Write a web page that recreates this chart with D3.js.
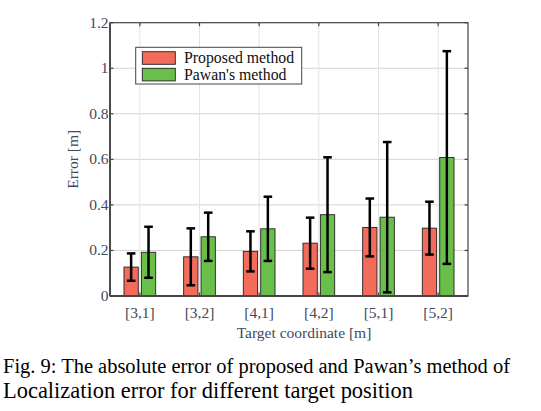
<!DOCTYPE html>
<html><head><meta charset="utf-8">
<script src="https://cdn.jsdelivr.net/npm/d3@7"></script>
<style>body{margin:0;background:#fff}svg{display:block}</style>
</head><body>
<svg id="c" width="541" height="411"></svg>
<script>
const categories = ["[3,1]","[3,2]","[4,1]","[4,2]","[5,1]","[5,2]"];
const seriesNames = ["Proposed method","Pawan's method"];
const proposed = [0.127,0.172,0.196,0.232,0.301,0.298];
const proposedErr = [0.060,0.125,0.088,0.112,0.127,0.116];
const pawan = [0.192,0.260,0.295,0.357,0.346,0.608];
const pawanErr = [0.112,0.106,0.141,0.252,0.330,0.467];
const yTicks = [0,0.2,0.4,0.6,0.8,1,1.2];
const yTickLabels = ["0","0.2","0.4","0.6","0.8","1","1.2"];
const colors = ["#f26b5b","#6abf4b"];

const svg = d3.select("#c");
const L=110,R=468,T=22.7,B=296;
const x = d3.scaleLinear().domain([0.5,6.5]).range([L,R]);
const y = d3.scaleLinear().domain([0,1.2]).range([B,T]);
const txt = "#3f4a5a";
const serif = "'Liberation Serif','Times New Roman',serif";

// grid
const g = svg.append("g");
g.selectAll(".gy").data(yTicks.slice(1,-1)).join("line")
  .attr("x1",L).attr("x2",R).attr("y1",d=>y(d)).attr("y2",d=>y(d))
  .attr("stroke","#d4d4d4").attr("stroke-width",1);
g.selectAll(".gx").data(categories).join("line")
  .attr("x1",(d,i)=>x(i+1)).attr("x2",(d,i)=>x(i+1)).attr("y1",T).attr("y2",B)
  .attr("stroke","#e2e2e2").attr("stroke-width",1);

// bars
const bw = 14.3, off = 8.7;
const data = [proposed,pawan], errs=[proposedErr,pawanErr];
data.forEach((s,k)=>{
  const o = k===0?-off:off;
  svg.append("g").selectAll("rect").data(s).join("rect")
    .attr("x",(d,i)=>x(i+1)+o-bw/2).attr("width",bw)
    .attr("y",d=>y(d)).attr("height",d=>y(0)-y(d))
    .attr("fill",colors[k]).attr("stroke","#222").attr("stroke-width",0.9);
});
data.forEach((s,k)=>{
  const o = k===0?-off:off;
  const eg = svg.append("g").attr("stroke","#000").attr("stroke-width",2.5);
  s.forEach((d,i)=>{
    const cx = x(i+1)+o, lo=y(d-errs[k][i]), hi=y(d+errs[k][i]);
    eg.append("line").attr("x1",cx).attr("x2",cx).attr("y1",lo).attr("y2",hi);
    eg.append("line").attr("x1",cx-4.3).attr("x2",cx+4.3).attr("y1",lo).attr("y2",lo);
    eg.append("line").attr("x1",cx-4.3).attr("x2",cx+4.3).attr("y1",hi).attr("y2",hi);
  });
});

// axes box
const ax = svg.append("g").attr("stroke","#444").attr("stroke-width",1.2).attr("fill","none");
ax.append("rect").attr("x",L).attr("y",T).attr("width",R-L).attr("height",B-T);
ax.append("line").attr("x1",L).attr("x2",R).attr("y1",B).attr("y2",B).attr("stroke-width",1.8);
ax.append("line").attr("x1",L).attr("x2",L).attr("y1",T).attr("y2",B).attr("stroke-width",1.8);
yTicks.forEach(t=>{
  ax.append("line").attr("x1",L).attr("x2",L+3.5).attr("y1",y(t)).attr("y2",y(t));
  ax.append("line").attr("x1",R).attr("x2",R-3.5).attr("y1",y(t)).attr("y2",y(t));
});
categories.forEach((c,i)=>{
  ax.append("line").attr("x1",x(i+1)).attr("x2",x(i+1)).attr("y1",B).attr("y2",B-3.5);
  ax.append("line").attr("x1",x(i+1)).attr("x2",x(i+1)).attr("y1",T).attr("y2",T+3.5);
});

// tick labels
svg.append("g").selectAll("text").data(yTicks).join("text")
  .attr("x",L-1.5).attr("y",d=>y(d)+5).attr("text-anchor","end")
  .attr("font-family",serif).attr("font-size",15.5).attr("fill",txt)
  .text((d,i)=>yTickLabels[i]);
svg.append("g").selectAll("text").data(categories).join("text")
  .attr("x",(d,i)=>x(i+1)).attr("y",318).attr("text-anchor","middle")
  .attr("font-family",serif).attr("font-size",15.5).attr("fill",txt).text(d=>d);

svg.append("text").attr("x",304).attr("y",337.5).attr("text-anchor","middle")
  .attr("font-family",serif).attr("font-size",15.5).attr("fill",txt).text("Target coordinate [m]");
svg.append("text").attr("transform",`translate(78,${(T+B)/2}) rotate(-90)`).attr("text-anchor","middle")
  .attr("font-family",serif).attr("font-size",15.5).attr("fill",txt).text("Error [m]");

// legend
const lg = svg.append("g");
lg.append("rect").attr("x",135.7).attr("y",47.3).attr("width",166).attr("height",36.7)
  .attr("fill","#fff").attr("stroke","#444").attr("stroke-width",1);
seriesNames.forEach((n,i)=>{
  lg.append("rect").attr("x",142.3).attr("y",51.7+i*16.6).attr("width",33).attr("height",12.6)
    .attr("fill",colors[i]).attr("stroke","#222").attr("stroke-width",0.9);
  lg.append("text").attr("x",184).attr("y",63.3+i*16.6).attr("font-family",serif)
    .attr("font-size",15.8).attr("fill","#111").text(n);
});

// caption
svg.append("text").attr("x",3).attr("y",373).attr("font-family",serif).attr("font-size",21.3)
  .attr("fill","#000").attr("textLength",507).attr("lengthAdjust","spacingAndGlyphs")
  .text("Fig. 9: The absolute error of proposed and Pawan\u2019s method of");
svg.append("text").attr("x",3).attr("y",398).attr("font-family",serif).attr("font-size",22.2)
  .attr("fill","#000").attr("textLength",410).attr("lengthAdjust","spacingAndGlyphs")
  .text("Localization error for different target position");
</script>
</body></html>
